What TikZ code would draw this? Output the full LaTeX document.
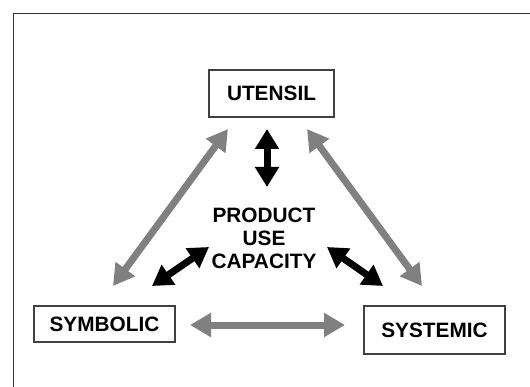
\documentclass[tikz,border=0pt]{standalone}
\usepackage{fontspec}
\setmainfont{Liberation Sans}
\usetikzlibrary{positioning, arrows.meta}

\begin{document}
\begin{tikzpicture}[x=1pt, y=-1pt,
    every node/.style = {font=\fontsize{20.8}{23}\selectfont\bfseries, align=center},
    box/.style = {draw=black!75, line width=1.3pt, inner sep=0pt},
    grayarrow/.style = {draw=black!50, line width=7pt,
        {Triangle[width=23pt,length=21pt]}-{Triangle[width=23pt,length=21pt]}},
    blackarrow/.style = {draw=black, line width=7pt,
        {Triangle[width=23pt,length=20pt]}-{Triangle[width=23pt,length=20pt]}}
]
    \useasboundingbox (0,0) rectangle (530,387);
    \draw[black!80, line width=1.3pt] (13.5,13.5) rectangle (560,420);

    \node (utensil) [box, minimum width=125pt, minimum height=47pt] at (271.5,93.5) {UTENSIL};
    \node (symbolic) [box, minimum width=141pt, minimum height=36pt] at (104.5,324) {SYMBOLIC};
    \node (systemic) [box, minimum width=141pt, minimum height=48pt] at (434.5,330) {SYSTEMIC};
    \node (capacity) at (264,238) {PRODUCT\\USE\\CAPACITY};

    % ends of the arrows
    \coordinate (ute-l) at (228,129);
    \coordinate (ute-m) at (267,129);
    \coordinate (ute-r) at (307,129);
    \coordinate (sym-t) at (113,286);
    \coordinate (sym-r) at (190,325);
    \coordinate (sys-t) at (422,286);
    \coordinate (sys-l) at (345,325);
    \coordinate (cap-t) at (267,187);
    \coordinate (cap-l) at (209,247);
    \coordinate (cap-bl) at (152,286);
    \coordinate (cap-r) at (327,247);
    \coordinate (cap-br) at (383,286);

    \draw[grayarrow] (sym-t) -- (ute-l);
    \draw[grayarrow] (ute-r) -- (sys-t);
    \draw[grayarrow] (sym-r) -- (sys-l);

    \draw[blackarrow] (ute-m) -- (cap-t);
    \draw[blackarrow] (cap-bl) -- (cap-l);
    \draw[blackarrow] (cap-r) -- (cap-br);
\end{tikzpicture}
\end{document}
